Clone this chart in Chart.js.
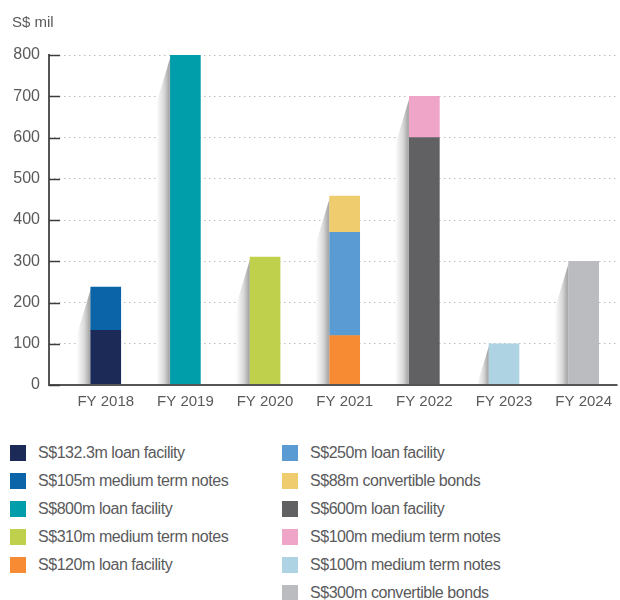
<!DOCTYPE html>
<html>
<head>
<meta charset="utf-8">
<script src="https://cdn.jsdelivr.net/npm/chart.js@4.4.1/dist/chart.umd.min.js"></script>
<style>
  body { margin: 0; background: #fff; font-family: "Liberation Sans", Arial, sans-serif; }
  #wrap { position: relative; width: 620px; height: 600px; overflow: hidden; }
  #chartBox { position: absolute; left: 0; top: 0; width: 620px; height: 420px; }
  #legend { position: absolute; left: 0; top: 445px; width: 620px; }
  #legend .item { position: absolute; height: 16px; line-height: 16px; font-size: 16px;
    letter-spacing: -0.45px; color: #5a5a5c; white-space: nowrap; }
  #legend .sw { display: inline-block; width: 16px; height: 16px; margin-right: 12px; vertical-align: top; }
</style>
</head>
<body>
<div id="wrap">
  <div id="chartBox"><canvas id="debtChart" width="620" height="420"></canvas></div>
  <div id="legend"></div>
</div>
<script>
var categories    = ['FY 2018', 'FY 2019', 'FY 2020', 'FY 2021', 'FY 2022', 'FY 2023', 'FY 2024'];
var trancheLabels = [
  'S$132.3m loan facility',
  'S$105m medium term notes',
  'S$800m loan facility',
  'S$310m medium term notes',
  'S$120m loan facility',
  'S$250m loan facility',
  'S$88m convertible bonds',
  'S$600m loan facility',
  'S$100m medium term notes',
  'S$100m medium term notes',
  'S$300m convertible bonds'
];
var trancheAmounts = [132.3, 105, 800, 310, 120, 250, 88, 600, 100, 100, 300];
var trancheYear    = [0, 0, 1, 2, 3, 3, 3, 4, 4, 5, 6];   // index into categories
var yTicks         = [0, 100, 200, 300, 400, 500, 600, 700, 800];

var trancheColors = ['#1b2a56', '#0b64a8', '#009dab', '#bed04c', '#f68b33', '#5b9bd4',
                     '#efcd6f', '#616163', '#eea5c8', '#aed4e3', '#bbbcc0'];

var textGrey = '#5a5a5c';

// soft grey wedge on the left side of every stack, plus axis lines and ticks
var barShadow = {
  id: 'barShadow',
  beforeDatasetsDraw: function(chart) {
    var ctx = chart.ctx, stacks = {};
    chart.data.datasets.forEach(function(ds, i) {
      chart.getDatasetMeta(i).data.forEach(function(bar) {
        var k = Math.round(bar.x);
        var s = stacks[k];
        if (!s) s = stacks[k] = { left: bar.x - bar.width / 2, top: bar.y, base: bar.base };
        s.top = Math.min(s.top, bar.y);
        s.base = Math.max(s.base, bar.base);
      });
    });
    var spread = 14, drop = 48;
    ctx.save();
    Object.keys(stacks).forEach(function(k) {
      var s = stacks[k];
      var foot = Math.min(s.top + drop, s.base);
      var reach = spread * (foot - s.top) / drop;
      var g = ctx.createLinearGradient(s.left - reach, 0, s.left, 0);
      g.addColorStop(0, 'rgba(255,255,255,1)');
      g.addColorStop(0.55, '#d8d8d8');
      g.addColorStop(0.9, '#a8a8a8');
      g.addColorStop(1, '#b6b6b6');
      ctx.fillStyle = g;
      ctx.beginPath();
      ctx.moveTo(s.left, s.top + 2);
      ctx.lineTo(s.left - reach, foot);
      ctx.lineTo(s.left - reach, s.base);
      ctx.lineTo(s.left, s.base);
      ctx.closePath();
      ctx.fill();
    });
    ctx.restore();
  },
  afterDraw: function(chart) {
    var ctx = chart.ctx, y = chart.scales.y, area = chart.chartArea;
    var left = Math.round(area.left), bottom = Math.round(y.getPixelForValue(0));
    ctx.save();
    ctx.strokeStyle = '#555';
    ctx.lineWidth = 2;
    ctx.beginPath();
    ctx.moveTo(left, Math.round(y.getPixelForValue(800)) - 1);
    ctx.lineTo(left, bottom);
    ctx.lineTo(area.right, bottom);
    ctx.stroke();
    // short ticks pointing into the plot
    ctx.strokeStyle = '#3c3c3c';
    ctx.lineWidth = 1.5;
    ctx.beginPath();
    yTicks.forEach(function(v) {
      var py = Math.round(y.getPixelForValue(v)) + 0.5;
      ctx.moveTo(left, py);
      ctx.lineTo(left + 11, py);
    });
    ctx.stroke();
    // unit caption
    ctx.fillStyle = textGrey;
    ctx.font = '15px "Liberation Sans", Arial, sans-serif';
    ctx.textBaseline = 'middle';
    ctx.fillText('S$ mil', 12, 23);
    ctx.restore();
  }
};

var datasets = trancheAmounts.map(function(v, i) {
  return {
    label: trancheLabels[i],
    data: [{ x: trancheYear[i], y: v }],
    backgroundColor: trancheColors[i],
    borderWidth: 0,
    barThickness: 30
  };
});

var ctx = document.getElementById('debtChart').getContext('2d');
var debtChart = new Chart(ctx, {
  type: 'bar',
  data: { datasets: datasets },
  options: {
    responsive: false,
    animation: false,
    layout: { padding: { top: 55, right: 0, left: 0, bottom: 0 } },
    plugins: {
      legend: { display: false },
      tooltip: { enabled: false }
    },
    scales: {
      x: {
        type: 'linear',
        offset: false,
        stacked: true,
        min: -0.7125,
        max: 6.425,
        afterBuildTicks: function(s) {
          s.ticks = categories.map(function(c, i) { return { value: i }; });
        },
        afterFit: function(s) { s.height = 35; },
        ticks: {
          padding: 8,
          color: textGrey,
          font: { family: '"Liberation Sans", Arial, sans-serif', size: 15 },
          callback: function(v) { return categories[v]; }
        },
        grid: { display: false, drawTicks: false },
        border: { display: false }
      },
      y: {
        stacked: true,
        min: 0,
        max: 800,
        afterBuildTicks: function(s) {
          s.ticks = yTicks.map(function(v) { return { value: v }; });
        },
        afterFit: function(s) { s.width = 49; },
        ticks: {
          padding: 9,
          color: textGrey,
          font: { family: '"Liberation Sans", Arial, sans-serif', size: 16 }
        },
        grid: {
          color: '#bdbdbd',
          lineWidth: 1,
          drawTicks: false,
          tickLength: 0
        },
        border: { display: false, dash: [1.5, 3.5] }
      }
    }
  },
  plugins: [barShadow]
});

function buildLegend(chart) {
  var box = document.getElementById('legend');
  var leftCount = 5;
  chart.data.datasets.forEach(function(ds, i) {
    var item = document.createElement('div');
    var row = i < leftCount ? i : i - leftCount;
    item.className = 'item';
    item.style.left = (i < leftCount ? 10 : 282) + 'px';
    item.style.top = (row * 28) + 'px';
    item.innerHTML = '<span class="sw" style="background:' + ds.backgroundColor + '"></span>' + ds.label;
    box.appendChild(item);
  });
}
buildLegend(debtChart);
</script>
</body>
</html>
